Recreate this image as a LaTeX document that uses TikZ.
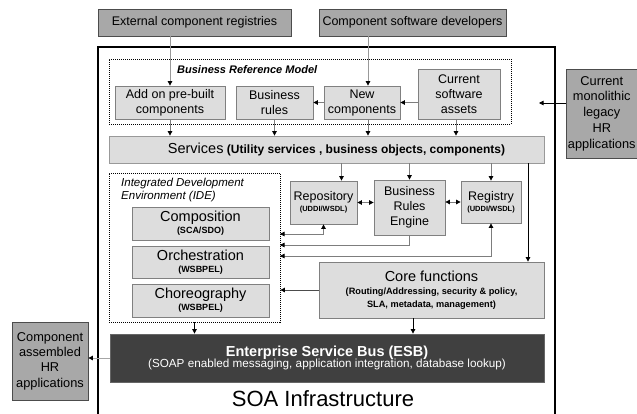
\documentclass[tikz,border=0pt]{standalone}
\usepackage{fontspec}
\setmainfont{Liberation Sans}
\usetikzlibrary{arrows.meta,positioning,calc}
\definecolor{darkbox}{RGB}{168,168,168}
\definecolor{lightbox}{RGB}{221,221,221}
\definecolor{esbgray}{RGB}{64,64,64}
\definecolor{linegray}{RGB}{125,125,125}
\newcommand{\setfs}[2]{\fontsize{#1}{#2}\selectfont}

\begin{document}
\begin{tikzpicture}[x=1pt,y=-1pt,
    >={Triangle[length=4.5pt,width=4.5pt,color=black]},
    extbox/.style={
      draw=black!70,
      fill=darkbox,
      line width=0.8pt,
      inner sep=0pt,
      align=center,
      font=\setfs{12.5}{15}
    },
    block/.style={
      draw=black!50,
      fill=lightbox,
      line width=0.8pt,
      inner sep=0pt,
      align=center,
      font=\setfs{12.5}{15}
    },
    grp/.style={draw=black, line width=0.8pt, dash pattern=on 1pt off 1pt, inner sep=0pt},
    conn/.style={draw=linegray, line width=0.8pt}
  ]

    \clip (0,0) rectangle (637,413);
    \fill[white] (0,0) rectangle (637,413);

    % outer frame
    \node[draw=black, line width=2pt, minimum width=457, minimum height=380, inner sep=0pt] (soa) at (326.5,237) {};
    \node[font=\setfs{22}{25}] (soalbl) at (323,399) {SOA Infrastructure};

    % sources
    \node[extbox, minimum width=193, minimum height=27] (extreg) at (194.5,22.5) {External component registries};
    \node[extbox, minimum width=187, minimum height=27] (devs) at (412.5,22.5) {Component software developers};
    \node[extbox, minimum width=71.5, minimum height=89, font=\setfs{12.8}{15.7}] (mono) at (601.75,113.5) {Current\\monolithic\\legacy\\HR\\applications};
    \node[extbox, minimum width=76, minimum height=78, font=\setfs{12.8}{15.3}] (asm) at (50,361) {Component\\assembled\\HR\\applications};

    % business reference model
    \node[grp, minimum width=402, minimum height=65] (brm) at (310,91.5) {};
    \node[font=\setfs{11}{12}\bfseries\itshape, anchor=west, inner sep=0pt] (brmlbl) at (177,70) {Business Reference Model};
    \node[block, minimum width=110, minimum height=33] (addon) at (170,102.5) {Add on pre-built\\components};
    \node[block, minimum width=77, minimum height=33] (rules) at (274.5,102.5) {Business\\rules};
    \node[block, minimum width=76, minimum height=33] (newc) at (362,102.5) {New\\components};
    \node[block, minimum width=82, minimum height=50] (assets) at (459,94) {Current\\software\\assets};

    \node[block, draw=black!40, minimum width=435, minimum height=27] (serv) at (326.5,149.5)
      {\hspace*{20pt}{\setfs{14.5}{16}Services} {\setfs{12}{13}\bfseries(Utility services , business objects, components)}};

    % IDE
    \node[grp, minimum width=171, minimum height=149] (ide) at (194.5,247.5) {};
    \node[font=\setfs{11.5}{13}\itshape, align=left, anchor=north west, inner sep=0pt] (idelbl) at (121,178) {Integrated Development\\Environment (IDE)};
    \node[block, minimum width=137, minimum height=33] (comp) at (200.5,223.5)
      {{\setfs{14.5}{14}Composition}\\[-3pt]{\setfs{9}{9}\bfseries (SCA/SDO)}};
    \node[block, minimum width=137, minimum height=32] (orch) at (200.5,262)
      {{\setfs{14.5}{14}Orchestration}\\[-3pt]{\setfs{9}{9}\bfseries (WSBPEL)}};
    \node[block, minimum width=137, minimum height=33] (chor) at (200.5,300.5)
      {{\setfs{14.5}{14}Choreography}\\[-3pt]{\setfs{9}{9}\bfseries (WSBPEL)}};

    % registries and engine
    \node[block, minimum width=67, minimum height=43] (repo) at (323.5,202.5)
      {Repository\\[-4pt]{\setfs{7.5}{8}\bfseries (UDDI/WSDL)}};
    \node[block, minimum width=71, minimum height=55] (bre) at (409.5,207.5) {Business\\Rules\\Engine};
    \node[block, minimum width=60, minimum height=42] (reg) at (491,202)
      {Registry\\[-4pt]{\setfs{7.5}{8}\bfseries (UDDI/WSDL)}};

    \node[block, minimum width=225, minimum height=56] (core) at (431.5,290)
      {{\setfs{14.5}{16}Core functions}\\[-2pt]{\setfs{9.2}{10}\bfseries (Routing/Addressing, security \& policy,}\\[-2pt]{\setfs{9.2}{10}\bfseries SLA, metadata, management)}};

    \node[draw=black!60, fill=esbgray, text=white, line width=0.8pt, inner sep=0pt, align=center,
          minimum width=434, minimum height=48] (esb) at (327,358)
      {{\setfs{14.5}{16}\bfseries Enterprise Service Bus (ESB)}\\[-1pt]{\setfs{11.7}{13}(SOAP enabled messaging, application integration, database lookup)}};

    % helper points
    \coordinate (monoin) at (539,103);
    \coordinate (newcx) at ([xshift=6pt]newc.north);
    \coordinate (newcy) at ([xshift=6pt]newc.south);
    \coordinate (assetsx) at ([xshift=-3pt]assets.south);
    \coordinate (repox) at ([xshift=18pt]repo.north);
    \coordinate (corein) at ([xshift=96.5pt]core.north);
    \coordinate (coreout) at ([xshift=-18.5pt]core.south);
    \coordinate (ideA) at (280,234);
    \coordinate (ideB) at (280,245);
    \coordinate (ideC) at (280,256);

    % connectors
    \draw[conn, draw=black!40, ->] (addon.north |- extreg.south) -- (addon.north);
    \draw[conn, draw=black!40, ->] (newcx |- devs.south) -- (newcx);
    \draw[conn, draw=black, ->] (mono.west |- monoin) -- (monoin);
    \draw[conn, ->] (newc.west) -- (rules.east);
    \draw[conn, ->] (assets.west |- newc.east) -- (newc.east);

    \draw[conn, ->] (addon.south) -- (addon.south |- serv.north);
    \draw[conn, ->] (rules.south) -- (rules.south |- serv.north);
    \draw[conn, ->] (newcy) -- (newcy |- serv.north);
    \draw[conn, ->] (assetsx) -- (assetsx |- serv.north);

    \draw[conn, ->] (repox |- serv.south) -- (repox);
    \draw[conn, ->] (bre.north |- serv.south) -- (bre.north);
    \draw[conn, ->] (reg.north |- serv.south) -- (reg.north);
    \draw[conn, draw=black, ->] (corein |- serv.south) -- (corein);

    \draw[conn, <->] (repo.east) -- (bre.west |- repo.east);
    \draw[conn, <->] (bre.east |- reg.west) -- (reg.west);

    \draw[conn, <->] (repo.south) |- (ideA);
    \draw[conn, ->] (bre.south) |- (ideB);
    \draw[conn, <->] (reg.south) |- (ideC);
    \draw[conn, draw=black!70, ->] (core.west) -- (core.west -| ide.east);

    \draw[conn, draw=black, ->] (ide.south) -- (ide.south |- esb.north);
    \draw[conn, draw=black, ->] (coreout) -- (coreout |- esb.north);
    \draw[conn, draw=black!35, ->] (esb.west) -- (esb.west -| asm.east);

\end{tikzpicture}
\end{document}
